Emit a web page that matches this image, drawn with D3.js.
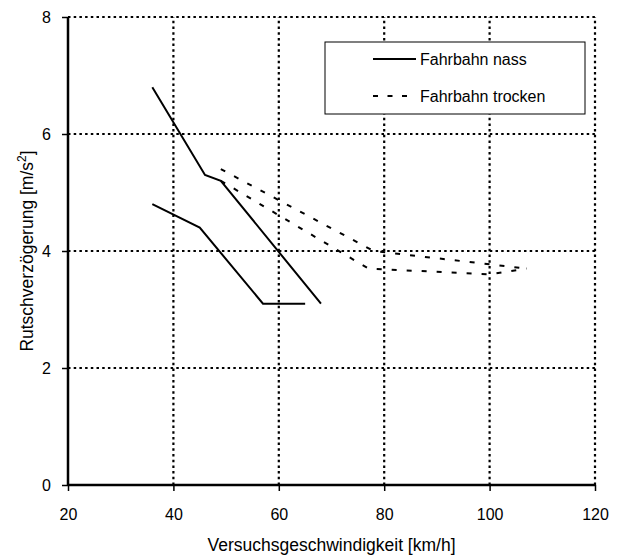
<!DOCTYPE html>
<html>
<head>
<meta charset="utf-8">
<script src="https://cdn.jsdelivr.net/npm/d3@7"></script>
<style>
  body { margin: 0; background: #fff; }
  text { font-family: "Liberation Sans", Arial, sans-serif; fill: #000; }
</style>
</head>
<body>
<div class="chart"></div>
<script>
// wet road (solid) - two test series
const nassA = [[36, 6.8], [46, 5.3], [49, 5.2], [68, 3.1]];
const nassB = [[36, 4.8], [45, 4.4], [57, 3.1], [65, 3.1]];
// dry road (dashed)
const trockenA = [[49, 5.4], [78, 4.0], [107, 3.7]];
const trockenB = [[49, 5.2], [77, 3.7], [100, 3.6], [107, 3.7]];

const xTicks = [20, 40, 60, 80, 100, 120];
const yTicks = [0, 2, 4, 6, 8];
const legendLabels = ["Fahrbahn nass", "Fahrbahn trocken"];

const width = 618, height = 558;
const margin = {left: 68, right: 23, top: 17, bottom: 73};

const svg = d3.select(".chart").append("svg")
    .attr("width", width)
    .attr("height", height);

const x = d3.scaleLinear().domain([20, 120]).range([margin.left, width - margin.right]);
const y = d3.scaleLinear().domain([0, 8]).range([height - margin.bottom, margin.top]);

// dotted grid
svg.append("g").selectAll("line")
    .data(xTicks.slice(1))
    .enter().append("line")
    .attr("x1", d => x(d)).attr("x2", d => x(d))
    .attr("y1", y(0)).attr("y2", y(8))
    .attr("stroke", "#000").attr("stroke-width", 2.2)
    .attr("stroke-dasharray", "2.5,3.2");

svg.append("g").selectAll("line")
    .data(yTicks.slice(1))
    .enter().append("line")
    .attr("x1", x(20)).attr("x2", x(120))
    .attr("y1", d => y(d)).attr("y2", d => y(d))
    .attr("stroke", "#000").attr("stroke-width", 2.2)
    .attr("stroke-dasharray", "2.5,3.2");

// axes
let xAxis = svg.append("g")
    .attr("transform", "translate(0," + y(0) + ")")
    .call(d3.axisBottom(x).tickValues(xTicks).tickSize(6).tickPadding(18));
let yAxis = svg.append("g")
    .attr("transform", "translate(" + x(20) + ",0)")
    .call(d3.axisLeft(y).tickValues(yTicks).tickSize(6).tickPadding(11));

[xAxis, yAxis].forEach(a => {
    a.select(".domain").attr("stroke", "#000").attr("stroke-width", 2.5);
    a.selectAll(".tick line").attr("stroke", "#000").attr("stroke-width", 1.5);
    a.selectAll(".tick text")
        .style("font-family", '"Liberation Sans", Arial, sans-serif')
        .style("font-size", "16px")
        .attr("fill", "#000");
});
xAxis.select(".domain").attr("d", "M" + x(20) + ",0H" + x(120));
yAxis.select(".domain").attr("d", "M0," + y(0) + "V" + y(8));

// series
const line = d3.line().x(d => x(d[0])).y(d => y(d[1]));

[nassA, nassB].forEach(s => {
    svg.append("path").datum(s)
        .attr("d", line)
        .attr("fill", "none").attr("stroke", "#000").attr("stroke-width", 2);
});
[trockenA, trockenB].forEach(s => {
    svg.append("path").datum(s)
        .attr("d", line)
        .attr("fill", "none").attr("stroke", "#000").attr("stroke-width", 2)
        .attr("stroke-dasharray", "5,10");
});

// legend
const legend = svg.append("g").attr("transform", "translate(325,42)");
legend.append("rect")
    .attr("width", 260).attr("height", 72)
    .attr("fill", "#fff").attr("stroke", "#000").attr("stroke-width", 1);

const item = legend.selectAll("g.item")
    .data(legendLabels)
    .enter().append("g")
    .attr("class", "item")
    .attr("transform", (d, i) => "translate(0," + (17 + i * 37) + ")");

item.append("line")
    .attr("x1", 48).attr("x2", d => d === legendLabels[0] ? 91 : 83)
    .attr("y1", 0).attr("y2", 0)
    .attr("stroke", "#000").attr("stroke-width", 2)
    .attr("stroke-dasharray", (d, i) => i === 0 ? null : "5,9.5");

item.append("text")
    .attr("x", 95)
    .attr("dy", "0.35em")
    .style("font-size", "16px")
    .text(d => d);

// axis titles
svg.append("text")
    .attr("x", (x(20) + x(120)) / 2)
    .attr("y", 551)
    .attr("text-anchor", "middle")
    .style("font-size", "17.5px")
    .text("Versuchsgeschwindigkeit [km/h]");

const yTitle = svg.append("text")
    .attr("transform", "translate(33," + ((y(0) + y(8)) / 2) + ") rotate(-90)")
    .attr("text-anchor", "middle")
    .style("font-size", "17.5px");
yTitle.append("tspan").text("Rutschverzögerung [m/s");
yTitle.append("tspan").attr("dy", "-7").style("font-size", "12px").text("2");
yTitle.append("tspan").attr("dy", "7").text("]");
</script>
</body>
</html>
